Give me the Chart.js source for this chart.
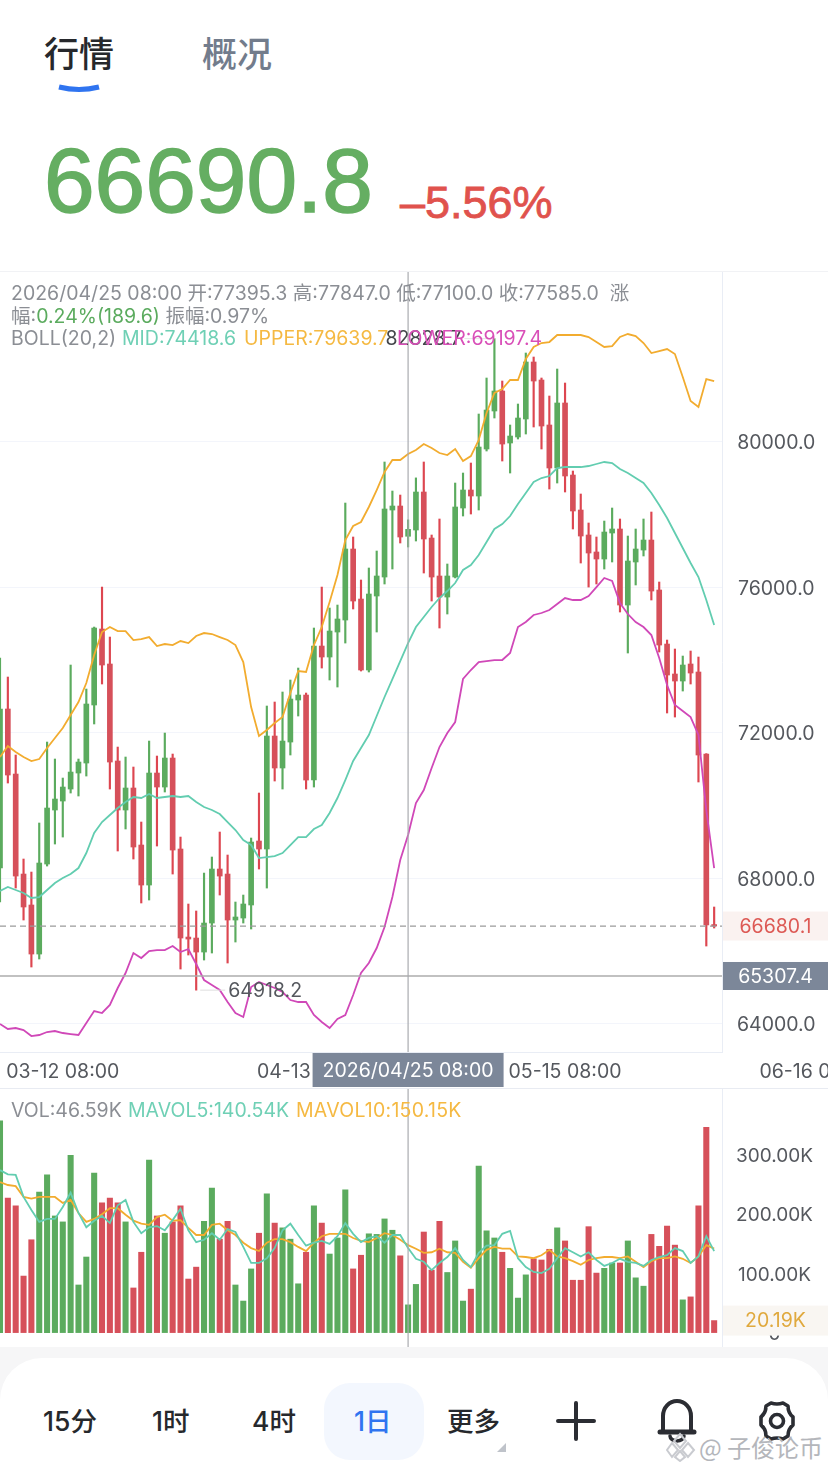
<!DOCTYPE html>
<html>
<head>
<meta charset="utf-8">
<script src="https://cdn.jsdelivr.net/npm/chart.js@4"></script>
<style>
  html, body { margin: 0; padding: 0; background: #fff; }
  #page { position: relative; width: 828px; height: 1472px; overflow: hidden; background: #fff;
          font-family: Inter, "Noto Sans CJK SC", sans-serif; }
  #page > * { position: absolute; }
  .t { white-space: nowrap; }
  .tab { font: 500 35px/40px "Liberation Sans", "Noto Sans CJK SC", sans-serif; top: 35px; }
  .info { font-size: 19.5px; line-height: 22px; color: #8b8e94; white-space: nowrap; }
  .period { font: 500 26.5px/32px Inter, "Noto Sans CJK SC", sans-serif; top: 1405px; color: #26282c; white-space: nowrap; }
</style>
</head>
<body>
<div id="page">
  <div class="t tab" style="left:44px;color:#26282c">行情</div>
  <div class="t tab" style="left:202px;color:#727c8c">概况</div>
  <svg style="left:50px;top:78px" width="60" height="20"><path d="M9 9 Q29 14 49 9" fill="none" stroke="#2f74f0" stroke-width="5"/></svg>

  <div class="t" style="left:44px;top:131px;font:400 91px/100px 'Liberation Sans',sans-serif;color:#65ae62;-webkit-text-stroke:1.6px #65ae62">66690.8</div>
  <div class="t" style="left:400px;top:177px;font:400 45px/52px 'Liberation Sans',sans-serif;color:#e0524d;-webkit-text-stroke:.8px #e0524d">–5.56%</div>

  <div style="left:0;top:271px;width:828px;height:1px;background:#f1f2f5"></div>
  <canvas id="mainChart" width="828" height="816" style="left:0;top:272px"></canvas>
  <canvas id="volChart" width="828" height="259" style="left:0;top:1088px"></canvas>
  <div style="left:0;top:1088px;width:828px;height:1px;background:#e8ebf2"></div>

  <div class="info" style="left:11px;top:282px">2026/04/25 08:00 开:77395.3 高:77847.0 低:77100.0 收:77585.0 &nbsp;涨</div>
  <div class="info" style="left:11px;top:305px">幅:<span style="color:#5bab5e">0.24%(189.6)</span> 振幅:0.97%</div>
  <div class="info" style="left:11px;top:327px">BOLL(20,2)</div>
  <div class="info" style="left:122px;top:327px;color:#6fd0b5">MID:74418.6</div>
  <div class="info" style="left:244px;top:327px;color:#f5b942">UPPER:79639.7</div>
  <div class="info" style="left:397px;top:327px;color:#d94fb8">LOWER:69197.4</div>

  <div class="info" style="left:11px;top:1099px">VOL:46.59K</div>
  <div class="info" style="left:128px;top:1099px;color:#6fd0b5">MAVOL5:140.54K</div>
  <div class="info" style="left:296px;top:1099px;color:#f5b942;letter-spacing:.25px">MAVOL10:150.15K</div>

  <div style="left:0;top:1347px;width:828px;height:125px;background:#f6f6f7"></div>
  <div style="left:0;top:1358px;width:828px;height:114px;background:#fff;border-radius:42px 42px 0 0"></div>
  <div style="left:324px;top:1383px;width:100px;height:77px;background:#f3f7fe;border-radius:26px"></div>
  <div class="period" style="left:43px">15分</div>
  <div class="period" style="left:152px">1时</div>
  <div class="period" style="left:252px">4时</div>
  <div class="period" style="left:354px;color:#2f74f0">1日</div>
  <div class="period" style="left:447px">更多</div>
  <svg style="left:495px;top:1441px" width="13" height="13"><path d="M11 2 V11 H2 Z" fill="#bfc3ca"/></svg>
  <svg style="left:550px;top:1395px" width="270" height="52" fill="none" stroke="#2b2d33" stroke-linecap="round" stroke-linejoin="round">
    <path d="M8 26 H44 M26 8 V44" stroke-width="4"/>
    <path d="M113 36 V21 a14 15 0 0 1 28 0 V36" stroke-width="4"/>
    <path d="M110 37 H144" stroke-width="5"/>
    <path d="M120 41 a7 5 0 0 0 14 0" stroke-width="3.5"/>
    <path d="M221 7 q6 2 12 0 l5 3 q0 7 5 11 v8 q-5 4 -5 11 l-5 3 q-6 -2 -12 0 l-5 -3 q0 -7 -5 -11 v-8 q5 -4 5 -11 z" stroke-width="3.6" transform="translate(0,1)"/>
    <circle cx="227" cy="26" r="6.5" stroke-width="3.6"/>
  </svg>
  <svg style="left:666px;top:1432px" width="32" height="30" fill="none" stroke="#c9cbd0" stroke-width="2">
    <path d="M14 2 L20 9 L14 16 L8 9 Z M6 11 L12 18 L6 25 L1 18 Z M22 11 L28 18 L22 25 L16 18 Z M14 19 L19 25 L14 29 L9 25 Z"/>
  </svg>
  <div class="t" style="left:699px;top:1432px;font:400 24px/30px 'Noto Sans CJK SC',sans-serif;color:#b4b6bb">@ 子俊论币</div>
</div>

<script>
// daily candles, one per day, last one is the live bar
const opens = [68275,72647,70859,68110,67259,65911,68385,69870,70117,70447,70887,71162,72757,74846,73884,71217,69870,70475,68908,67808,70887,70502,71299,68798,66378,66351,65966,66763,68248,68110,66846,66901,67259,69018,68798,71904,71025,71739,72894,73031,70694,74378,74076,74763,75093,77045,75670,73719,75753,76275,78117,78227,77395.3,77567,78612,77347,76303,75725,76275,78172,78667,78502,79794,80839,81388,79959,80124,80619,82186,81691,80454,79272,81059,79079,78117,77430,76963,76770,77485,77595,75505,76688,77017,77292,75918,74433,73609,73416,73884,73664,71409,66720];
const highs = [74048,73526,71382,68523,68165,69513,71739,71272,70749,73856,71272,73196,74900,75999,74625,71601,71327,71052,69540,71766,71354,71986,71409,69127,67286,67094,68137,68578,69265,68633,67341,67533,69100,70337,72729,72839,73114,73444,73773,73086,74873,75999,75423,75505,78309,77375,76193,76523,76990,79437,78639,78529,77847,79000,79437,77430,77870,76633,78859,79134,79409,80756,81746,82828.7,81663,80454,81031,82433,82323,81746,81251,81993,81608,79189,78557,77760,77375,77814,78172,77870,77402,77595,77870,78062,76138,74543,74296,74103,74241,74076,71420,67204];
const lows = [67341,70612,67725,66846,65554,65774,68330,68935,69127,70337,70255,70804,72235,73334,70447,68743,69348,68523,67314,67396,68880,70365,68110,65499,65884,64918.2,65746,65939,67533,65664,66241,66763,66599,68248,67725,70667,70447,71382,72454,70447,70502,73773,73444,73251,74460,75396,73691,73664,74763,76083,76495,77210,77100,77265,76385,75615,74873,75258,76250,77952,78007,78117,79739,80646,79464,79134,80069,80206,80399,79794,78694,78859,78612,77595,76660,75999,76083,76495,76688,75313,74186,76056,76853,75643,74213,72537,72426,73141,73334,70640,66131,66626];
const closes = [72647,70832,68055,67204,65911,68413,69925,70172,70502,70914,71189,72784,74873,73856,71189,69870,70475,68853,67808,70887,70502,71299,68770,66351,66323,65966,66763,68248,68055,66846,66929,67286,68990,68798,71904,71025,71766,72921,73031,70694,74378,74076,74790,75121,77045,75615,73719,75808,76303,78145,78227,77375,77585,78612,77320,76275,75725,76303,78200,78667,78502,79849,80866,81388,79931,80151,80646,82186,81663,80426,79272,81059,79052,78090,77402,76935,76770,77512,77595,75505,76715,77045,77292,75890,74405,73581,73416,73856,73636,71382,66709,66680.1];

const bollUpper = [71327,71629,71464,71327,71217,71272,71574,71849,72124,72482,72839,73361,74131,74763,74900,74790,74790,74543,74570,74625,74378,74433,74405,74515,74460,74653,74735,74708,74625,74543,74405,73938,72701,71904,72069,72261,72426,73086,73691,73664,74405,74900,75588,76330,77292,77677,77787,78200,78667,79162,79492,79492,79657,79766,79931,79821,79684,79629,79794,79464,79601,80041,80784,81334,81443,81691,81691,82268,82598,82708,82735,82928,82928,82928,82928,82873,82735,82598,82625,82873,82955,82900,82708,82433,82488,82543,82405,81773,81114,80949,81718,81663];
const bollMid = [67643,67753,67671,67588,67451,67478,67671,67863,68000,68110,68275,68688,69237,69540,69732,69925,70090,70228,70200,70310,70200,70228,70255,70228,70255,70090,69952,69870,69760,69540,69320,69045,68908,68550,68578,68605,68688,68908,69127,69127,69348,69458,69788,70200,70694,71217,71574,71932,72454,72977,73471,73966,74460,74900,75176,75450,75698,75890,76110,76468,76605,76880,77237,77595,77732,77952,78282,78584,78887,78997,79052,79272,79299,79299,79299,79327,79382,79437,79409,79244,79134,78997,78859,78584,78254,77897,77485,77072,76660,76275,75643,74956];
const bollLower = [63987,63850,63877,63822,63657,63685,63767,63795,63740,63712,63685,64015,64345,64290,64510,64977,65389,65939,65801,65994,66021,66021,66131,65966,66049,65637,65197,65060,64922,64592,64290,64180,65005,65142,65060,64977,64867,64647,64592,64592,64235,64042,63877,64125,64235,64785,65389,65664,66076,66653,67478,68495,69182,70062,70420,71025,71601,71986,72289,73471,73719,73938,73966,73993,73993,74186,74900,75038,75231,75286,75368,75533,75698,75643,75643,75753,75999,76248,76166,75560,75258,75038,74900,74681,74048,73306,72757,72592,72426,71932,69870,68275];

// volume in thousands
const volumes = [356,226,213,95,156,236,265,196,186,298,80,127,268,218,226,218,186,75,135,290,196,167,186,213,90,110,187,243,157,187,80,53,107,167,233,184,176,157,82,135,213,184,132,159,240,107,130,166,165,191,172,129,46.59,81,169,105,187,101,154,53,73,280,171,159,135,108,58,97,124,122,140,176,154,88,88,178,100,108,117,117,154,92,78,165,145,179,147,55,60,213,345,20.19];
const mavol5 = [273,266,265,228,206,186,191,191,211,235,201,177,188,196,184,214,223,186,167,177,179,172,189,208,172,152,156,167,156,174,169,144,117,117,125,142,172,183,164,146,151,154,149,162,184,166,152,159,162,151,164,164,142,124,119,105,117,127,142,122,110,134,146,147,166,171,125,110,102,100,107,125,142,135,128,135,122,112,117,124,119,117,112,122,127,130,142,137,117,128,162,137];
const mavol10 = [253,248,246,228,225,228,228,228,218,223,201,186,191,199,209,209,198,188,183,181,194,198,188,189,176,164,164,181,183,172,164,151,142,137,151,157,157,152,144,137,151,162,166,166,166,159,154,152,159,167,164,156,147,141,134,135,141,135,134,119,109,125,139,144,141,141,128,127,125,130,139,128,125,120,114,122,125,127,127,125,128,119,110,120,125,125,128,124,117,128,147,141];

const priceTicks = [64000, 68000, 72000, 76000, 80000];
const volTicks = [0, 100, 200, 300];
const dateTickIndex = [8, 40, 72, 104];
const dateTickLabels = ["03-12 08:00", "04-13 08:00", "05-15 08:00", "06-16 08:00"];

const lastPrice = 66680.1;
const crossPrice = 65307.4;
const crossIndex = 52;
const crossDate = "2026/04/25 08:00";
const highLabel = { index: 63, price: 82828.7, text: "82828.7" };
const lowLabel = { index: 25, price: 64918.2, text: "64918.2" };
const lastVolume = 20.19;

const GREEN = "#5bab5e", RED = "#d6505a", WICK_RED = "#dd4650";
const AXIS_TEXT = "#55585e", GRID = "#f3f5fb", EDGE = "#e9edf5";
const FONT = 'Inter, "Noto Sans CJK SC", sans-serif';
const CANDLE_SLOTS = 92;

Chart.defaults.font.family = FONT;
Chart.defaults.font.size = 19.5;
Chart.defaults.animation = false;

const isUp = closes.map((c, i) => c >= opens[i]);
const xy = arr => arr.map((v, i) => ({ x: i, y: v }));

function lineSet(label, values, color) {
    return { type: "line", label, data: xy(values), borderColor: color, borderWidth: 1.8,
             pointRadius: 0, tension: 0, order: 0 };
}

// no room is reserved for labels that hang over the pane edges
function noPadding(scale) {
    scale.paddingLeft = scale.paddingRight = scale.paddingTop = scale.paddingBottom = 0;
}

function fixWidth(scale) {
    scale.width = 106;
    noPadding(scale);
}

function pill(ctx, x, y, w, h, fill, text, color) {
    ctx.fillStyle = fill;
    ctx.fillRect(x, y, w, h);
    ctx.fillStyle = color;
    ctx.font = "19.5px " + FONT;
    ctx.textAlign = "center";
    ctx.textBaseline = "middle";
    ctx.fillText(text, x + w / 2, y + h / 2 + 1);
}

function hLine(ctx, y, x0, x1, color, width, dash) {
    ctx.save();
    ctx.strokeStyle = color;
    ctx.lineWidth = width;
    ctx.setLineDash(dash || []);
    ctx.beginPath();
    ctx.moveTo(x0, y);
    ctx.lineTo(x1, y);
    ctx.stroke();
    ctx.restore();
}

function vLine(ctx, x, y0, y1) {
    ctx.save();
    ctx.strokeStyle = "#a9abaf";
    ctx.lineWidth = 1.2;
    ctx.beginPath();
    ctx.moveTo(x, y0);
    ctx.lineTo(x, y1);
    ctx.stroke();
    ctx.restore();
}

const mainMarkers = {
    id: "mainMarkers",
    afterDraw(chart) {
        const { ctx, chartArea: area, scales: { x, y } } = chart;
        const cx = x.getPixelForValue(crossIndex);
        hLine(ctx, y.getPixelForValue(lastPrice), area.left, area.right, "#9b9b9b", 1.2, [6, 4]);
        hLine(ctx, y.getPixelForValue(crossPrice), area.left, area.right, "#adadad", 1.5);
        vLine(ctx, cx, 0, area.bottom);

        // high / low tags next to their candles
        ctx.font = "19.5px " + FONT;
        ctx.textBaseline = "middle";
        ctx.textAlign = "right";
        ctx.fillStyle = "#44464b";
        const hy = y.getPixelForValue(highLabel.price);
        hLine(ctx, hy, x.getPixelForValue(highLabel.index) - 30, x.getPixelForValue(highLabel.index), "#e4e4e4", 1);
        ctx.fillText(highLabel.text, x.getPixelForValue(highLabel.index) - 33, hy + 1);
        const ly = y.getPixelForValue(lowLabel.price);
        hLine(ctx, ly, x.getPixelForValue(lowLabel.index) + 4, x.getPixelForValue(lowLabel.index) + 29, "#dedede", 1);
        ctx.fillStyle = "#55585e";
        ctx.textAlign = "left";
        ctx.fillText(lowLabel.text, x.getPixelForValue(lowLabel.index) + 32, ly + 1);

        const lp = y.getPixelForValue(lastPrice);
        pill(ctx, area.right + 1, lp - 14.5, 105, 29, "#faf2f0", lastPrice.toFixed(1), "#dd5a55");
        const cp = y.getPixelForValue(crossPrice);
        pill(ctx, area.right + 1, cp - 14, 105, 28, "#7c8799", crossPrice.toFixed(1), "#ffffff");
        pill(ctx, cx - 95.5, area.bottom + 1, 191, 34, "#7c8799", crossDate, "#ffffff");
    }
};

const volMarkers = {
    id: "volMarkers",
    afterDraw(chart) {
        const { ctx, chartArea: area, scales: { x, y } } = chart;
        vLine(ctx, x.getPixelForValue(crossIndex), 0, area.bottom);
        const vy = y.getPixelForValue(lastVolume);
        pill(ctx, area.right + 1, vy - 15, 105, 30, "#f9f6f2", lastVolume.toFixed(2) + "K", "#e0a93e");
    }
};

new Chart(document.getElementById("mainChart"), {
    type: "bar",
    data: {
        datasets: [
            lineSet("UPPER", bollUpper, "#f2ac2f"),
            lineSet("MID", bollMid, "#62cdb0"),
            lineSet("LOWER", bollLower, "#d048b8"),
            {
                label: "body",
                data: opens.map((o, i) => ({ x: i, y: [o, closes[i]] })),
                backgroundColor: isUp.map(u => u ? GREEN : RED),
                barThickness: 5, minBarLength: 1.5, grouped: false, order: 1
            },
            {
                label: "wick",
                data: lows.map((l, i) => ({ x: i, y: [l, highs[i]] })),
                backgroundColor: isUp.map(u => u ? GREEN : WICK_RED),
                barThickness: 1.5, grouped: false, order: 2
            }
        ]
    },
    options: {
        responsive: false,
        layout: { padding: 0 },
        plugins: { legend: { display: false }, tooltip: { enabled: false } },
        scales: {
            x: {
                type: "linear", min: 0, max: CANDLE_SLOTS, offset: false,
                grid: { display: false },
                border: { display: true, color: EDGE },
                afterBuildTicks: s => { s.ticks = dateTickIndex.map(v => ({ value: v })); },
                afterFit: s => { s.height = 36; noPadding(s); },
                ticks: {
                    autoSkip: false, maxRotation: 0, padding: 0, color: AXIS_TEXT,
                    callback: v => dateTickLabels[dateTickIndex.indexOf(v)]
                }
            },
            y: {
                position: "right", min: 63218, max: 84660,
                grid: { color: GRID, drawTicks: false },
                border: { color: EDGE },
                afterBuildTicks: s => { s.ticks = priceTicks.map(v => ({ value: v })); },
                afterFit: fixWidth,
                ticks: { padding: 15, crossAlign: "center", labelOffset: 2, color: AXIS_TEXT, callback: v => v.toFixed(1) }
            }
        }
    },
    plugins: [mainMarkers]
});

new Chart(document.getElementById("volChart"), {
    type: "bar",
    data: {
        datasets: [
            lineSet("MAVOL5", mavol5, "#62cdb0"),
            lineSet("MAVOL10", mavol10, "#f2ac2f"),
            {
                label: "VOL",
                data: xy(volumes),
                backgroundColor: isUp.map(u => u ? GREEN : RED),
                barThickness: 5.4, grouped: false, order: 1
            }
        ]
    },
    options: {
        responsive: false,
        layout: { padding: 0 },
        plugins: { legend: { display: false }, tooltip: { enabled: false } },
        scales: {
            x: { type: "linear", min: 0, max: CANDLE_SLOTS, offset: false, display: false },
            y: {
                position: "right", min: -24.2, max: 411,
                grid: { display: false },
                border: { color: EDGE },
                afterBuildTicks: s => { s.ticks = volTicks.map(v => ({ value: v })); },
                afterFit: fixWidth,
                ticks: { padding: 6, crossAlign: "center", labelOffset: 2, color: AXIS_TEXT, font: { size: 19 },
                         callback: v => v === 0 ? "0" : v.toFixed(2) + "K" }
            }
        }
    },
    plugins: [volMarkers]
});
</script>
</body>
</html>
